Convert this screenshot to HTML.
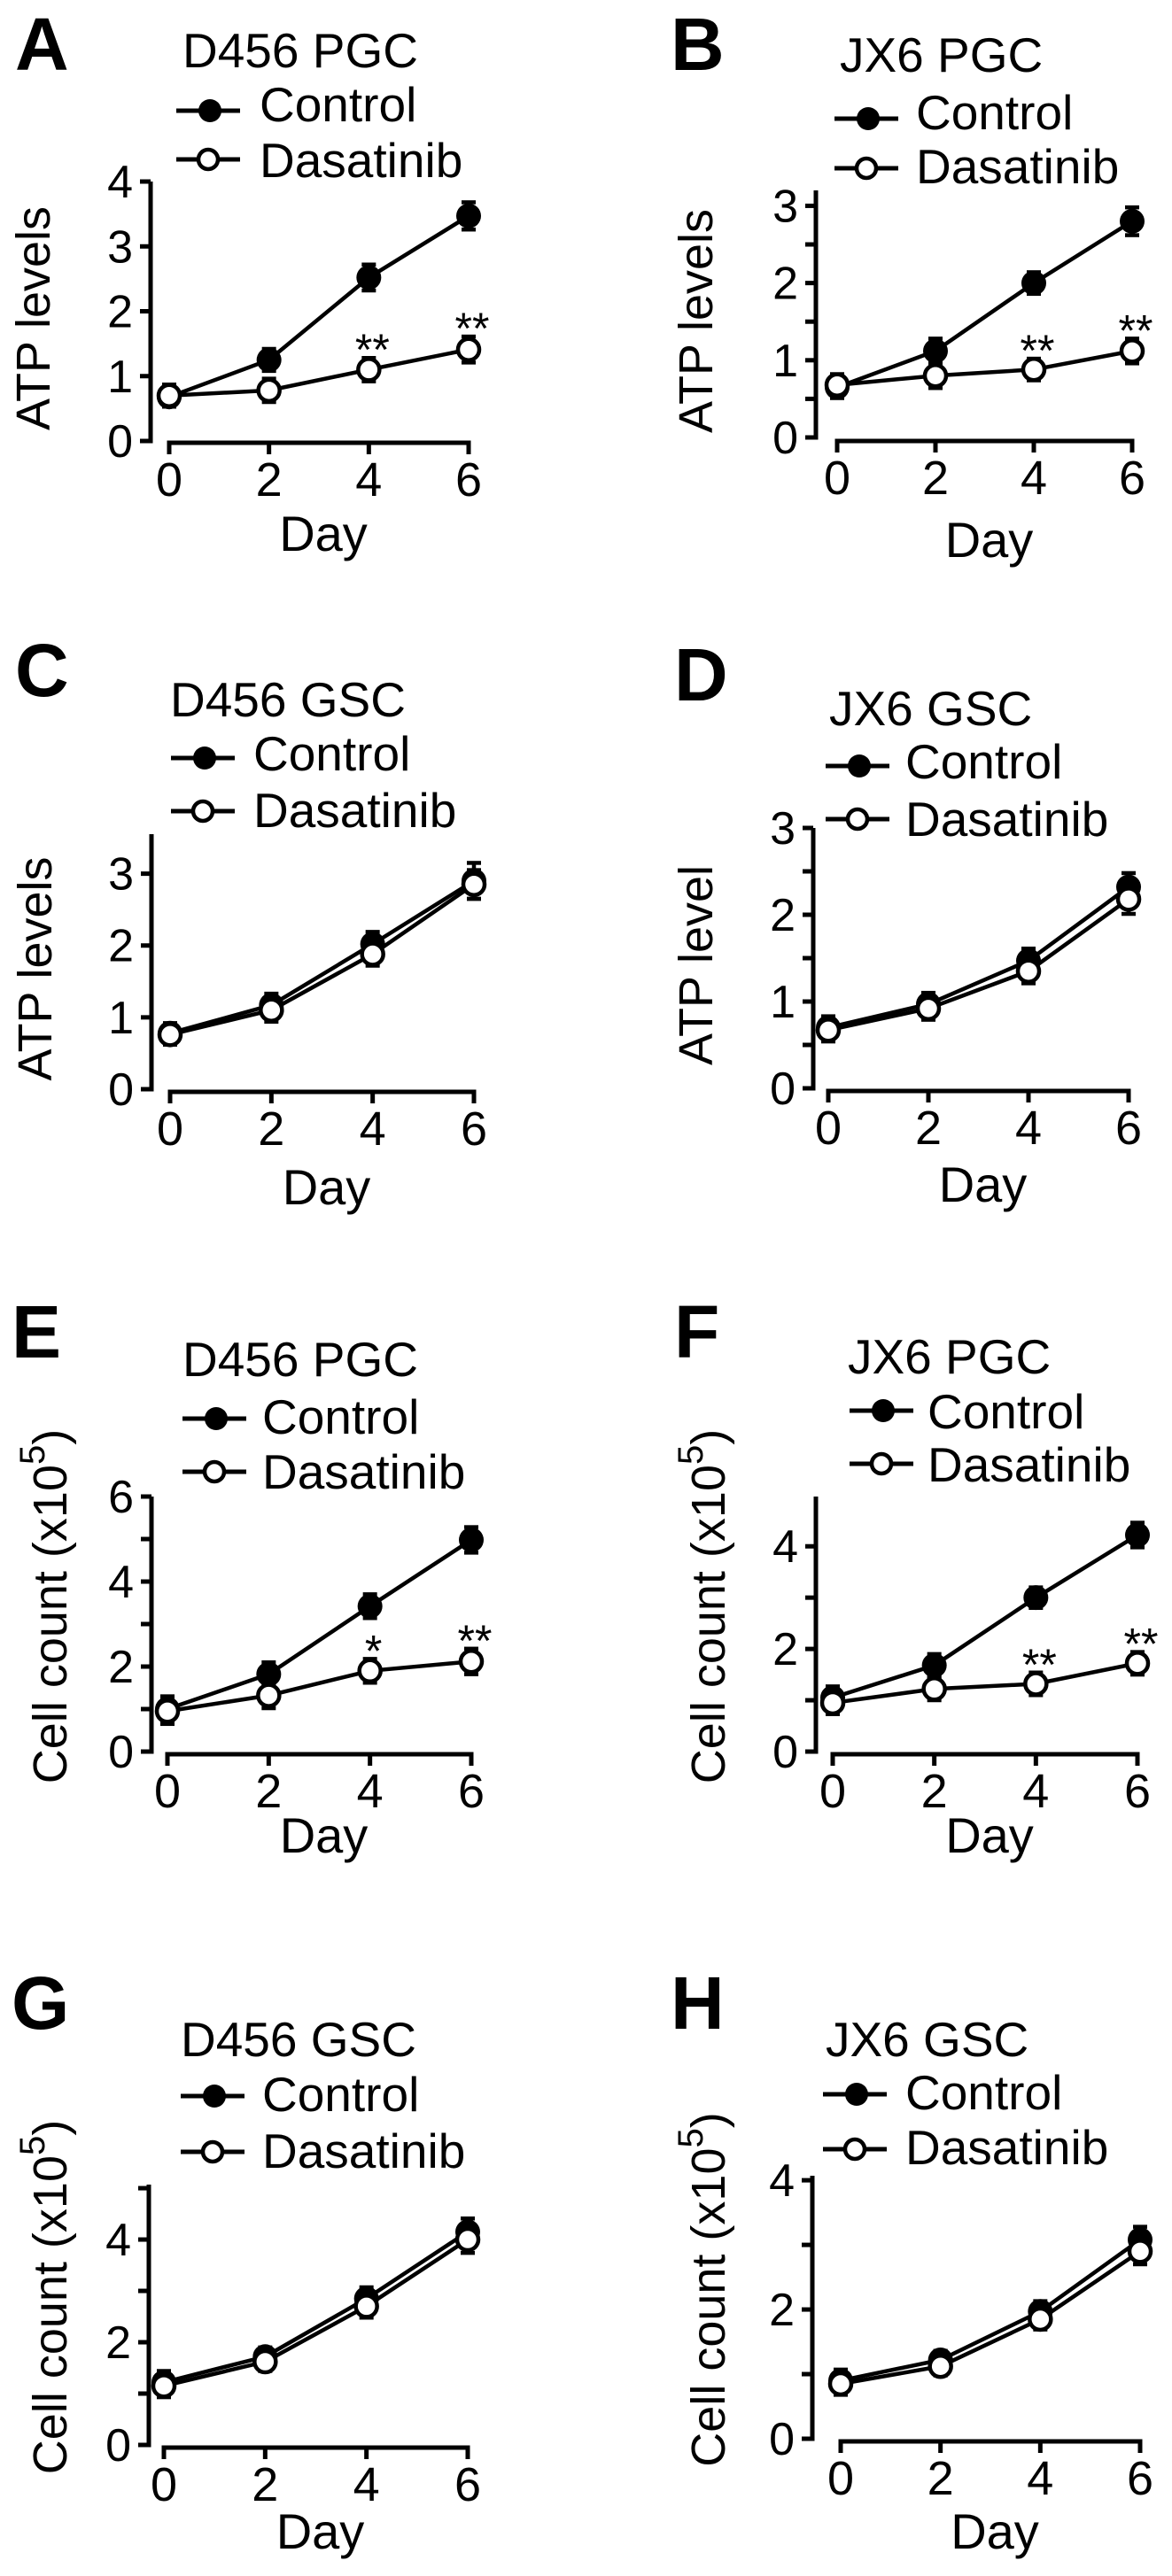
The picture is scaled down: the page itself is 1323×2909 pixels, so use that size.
<!DOCTYPE html>
<html><head><meta charset="utf-8"><style>
html,body{margin:0;padding:0;background:#fff}
svg{display:block;font-family:"Liberation Sans",Arial,sans-serif}
</style></head><body>
<svg id="fig" width="1323" height="2909" viewBox="0 0 1323 2909" xmlns="http://www.w3.org/2000/svg"></svg>
<script>
const days = [0, 2, 4, 6];
const aCtrl = [0.68, 1.25, 2.52, 3.47], aCtrlErr = [0.15, 0.17, 0.2, 0.21];
const aDas = [0.7, 0.78, 1.1, 1.41], aDasErr = [0.17, 0.18, 0.18, 0.2];
const aStars = ["", "", "**", "**"];
const bCtrl = [0.65, 1.12, 2.0, 2.8], bCtrlErr = [0.14, 0.16, 0.14, 0.18];
const bDas = [0.68, 0.8, 0.88, 1.12], bDasErr = [0.14, 0.16, 0.14, 0.16];
const bStars = ["", "", "**", "**"];
const cCtrl = [0.78, 1.17, 2.02, 2.9], cCtrlErr = [0.14, 0.16, 0.17, 0.25];
const cDas = [0.76, 1.1, 1.88, 2.85], cDasErr = [0.14, 0.16, 0.16, 0.2];
const cStars = ["", "", "", ""];
const dCtrl = [0.7, 0.97, 1.47, 2.32], dCtrlErr = [0.13, 0.13, 0.14, 0.16];
const dDas = [0.67, 0.92, 1.35, 2.18], dDasErr = [0.13, 0.13, 0.14, 0.17];
const dStars = ["", "", "", ""];
const eCtrl = [1.0, 1.82, 3.42, 4.98], eCtrlErr = [0.3, 0.28, 0.28, 0.3];
const eDas = [0.95, 1.32, 1.9, 2.12], eDasErr = [0.3, 0.3, 0.28, 0.3];
const eStars = ["", "", "*", "**"];
const fCtrl = [1.05, 1.68, 3.0, 4.22], fCtrlErr = [0.22, 0.22, 0.2, 0.24];
const fDas = [0.95, 1.22, 1.32, 1.72], fDasErr = [0.22, 0.22, 0.22, 0.22];
const fStars = ["", "", "**", "**"];
const gCtrl = [1.22, 1.72, 2.85, 4.15], gCtrlErr = [0.22, 0.18, 0.22, 0.26];
const gDas = [1.15, 1.62, 2.7, 4.0], gDasErr = [0.22, 0.18, 0.22, 0.26];
const gStars = ["", "", "", ""];
const hCtrl = [0.9, 1.22, 1.97, 3.08], hCtrlErr = [0.17, 0.14, 0.16, 0.2];
const hDas = [0.85, 1.12, 1.85, 2.9], hDasErr = [0.17, 0.14, 0.16, 0.2];
const hStars = ["", "", "", ""];
const atpTicks = [0, 1, 2, 3, 4];
const cellTicks = [0, 2, 4, 6];

const panels = [
 {id:"a",letter:"A",title:"D456 PGC",ylab:"ATP levels",cell:false,lx:17,lb:79,tx:206,tb:76,legX:199,legY1:125,legY2:180,legTx:293,legB1:137,legB2:200,ax:170,top:205,y0:498,ymax:4,ytop:4,x0:191,x6:529,xa:500,dayB:622,ylx:38,minor:1,ctrl:aCtrl,ce:aCtrlErr,das:aDas,de:aDasErr,stars:aStars},
 {id:"b",letter:"B",title:"JX6 PGC",ylab:"ATP levels",cell:false,lx:757,lb:79,tx:948,tb:81,legX:942,legY1:134,legY2:190,legTx:1034,legB1:146,legB2:207,ax:921,top:215,y0:494,ymax:3,ytop:3.2,x0:945,x6:1278,xa:498,dayB:629,ylx:786,minor:0.5,ctrl:bCtrl,ce:bCtrlErr,das:bDas,de:bDasErr,stars:bStars},
 {id:"c",letter:"C",title:"D456 GSC",ylab:"ATP levels",cell:false,lx:17,lb:786,tx:192,tb:809,legX:193,legY1:856,legY2:916,legTx:286,legB1:870,legB2:934,ax:171,top:942,y0:1230,ymax:3,ytop:3.55,x0:192,x6:535,xa:1233,dayB:1360,ylx:40,minor:1,ctrl:cCtrl,ce:cCtrlErr,das:cDas,de:cDasErr,stars:cStars},
 {id:"d",letter:"D",title:"JX6 GSC",ylab:"ATP level",cell:false,lx:761,lb:791,tx:936,tb:819,legX:932,legY1:865,legY2:925,legTx:1022,legB1:879,legB2:944,ax:918,top:935,y0:1229,ymax:3,ytop:3,x0:935,x6:1274,xa:1232,dayB:1357,ylx:786,minor:0.5,ctrl:dCtrl,ce:dCtrlErr,das:dDas,de:dDasErr,stars:dStars},
 {id:"e",letter:"E",title:"D456 PGC",ylab:"cell",cell:true,lx:13,lb:1533,tx:206,tb:1554,legX:206,legY1:1602,legY2:1662,legTx:296,legB1:1619,legB2:1681,ax:171,top:1690,y0:1978,ymax:6,ytop:6,x0:189,x6:532,xa:1981,dayB:2092,ylx:57,minor:1,ctrl:eCtrl,ce:eCtrlErr,das:eDas,de:eDasErr,stars:eStars},
 {id:"f",letter:"F",title:"JX6 PGC",ylab:"cell",cell:true,lx:761,lb:1533,tx:957,tb:1551,legX:959,legY1:1593,legY2:1653,legTx:1047,legB1:1613,legB2:1673,ax:921,top:1690,y0:1978,ymax:4,ytop:4.97,x0:940,x6:1284,xa:1981,dayB:2092,ylx:800,minor:1,ctrl:fCtrl,ce:fCtrlErr,das:fDas,de:fDasErr,stars:fStars},
 {id:"g",letter:"G",title:"D456 GSC",ylab:"cell",cell:true,lx:13,lb:2291,tx:204,tb:2322,legX:204,legY1:2367,legY2:2430,legTx:296,legB1:2384,legB2:2448,ax:168,top:2467,y0:2761,ymax:4,ytop:5.07,x0:185,x6:528,xa:2764,dayB:2878,ylx:57,minor:1,ctrl:gCtrl,ce:gCtrlErr,das:gDas,de:gDasErr,stars:gStars},
 {id:"h",letter:"H",title:"JX6 GSC",ylab:"cell",cell:true,lx:757,lb:2291,tx:932,tb:2322,legX:929,legY1:2365,legY2:2427,legTx:1022,legB1:2382,legB2:2444,ax:917,top:2457,y0:2754,ymax:4,ytop:4.07,x0:949,x6:1287,xa:2757,dayB:2878,ylx:800,minor:1,ctrl:hCtrl,ce:hCtrlErr,das:hDas,de:hDasErr,stars:hStars}
];
const NS = "http://www.w3.org/2000/svg";
const svg = document.getElementById("fig");
function mk(tag, attrs, parent, txt) {
  const e = document.createElementNS(NS, tag);
  for (const k in attrs) e.setAttribute(k, attrs[k]);
  if (txt !== undefined) e.textContent = txt;
  parent.appendChild(e);
  return e;
}
panels.forEach(p => {
  const g = mk("g", {}, svg);
  
  
  const perUnit = (p.y0 - p.top) / p.ytop;
  const ys = v => p.y0 - v * perUnit;
  const xs = d => p.x0 + (d / 6) * (p.x6 - p.x0);
  let t = mk("text", {x:p.lx, y:p.lb, "font-size":84, "font-weight":"bold"}, g, p.letter);
  
  
  t = mk("text", {x:p.tx, y:p.tb, "font-size":55}, g, p.title);
  
  
  const l1 = mk("g", {}, g);
  
  
  mk("line", {x1:p.legX, x2:p.legX + 72, y1:p.legY1, y2:p.legY1, stroke:"#000", "stroke-width":5}, l1);
  mk("circle", {cx:p.legX + 38, cy:p.legY1, r:13, fill:"#000"}, l1);
  mk("text", {x:p.legTx, y:p.legB1, "font-size":55}, l1, "Control");
  const l2 = mk("g", {}, g);
  
  
  mk("line", {x1:p.legX, x2:p.legX + 72, y1:p.legY2, y2:p.legY2, stroke:"#000", "stroke-width":5}, l2);
  mk("circle", {cx:p.legX + 36, cy:p.legY2, r:11, fill:"#fff", stroke:"#000", "stroke-width":4.5}, l2);
  mk("text", {x:p.legTx, y:p.legB2, "font-size":55}, l2, "Dasatinib");
  const ya = mk("g", {}, g);
  
  
  mk("line", {x1:p.ax, x2:p.ax, y1:p.top, y2:p.y0 + 2.5, stroke:"#000", "stroke-width":5}, ya);
  const labTicks = p.cell ? cellTicks : atpTicks;
  for (let v = 0; v <= p.ytop + 1e-6; v += p.minor) {
    mk("line", {x1:p.ax - 12, x2:p.ax, y1:ys(v), y2:ys(v), stroke:"#000", "stroke-width":5}, ya);
  }
  labTicks.filter(v => v <= p.ymax + 1e-6).forEach(v => {
    const tl = mk("text", {x:p.ax - 20, y:ys(v) + 18, "font-size":52, "text-anchor":"end"}, ya, String(v));
    
    
  });
  const yt = mk("text", {x:0, y:0, "font-size":54, "text-anchor":"middle", "dominant-baseline":"central",
    transform:`translate(${p.ylx},${(p.top + p.y0) / 2 + (p.cell ? -20 : 8)}) rotate(-90)`}, g);
  
  
  if (p.cell) {
    yt.textContent = "Cell count (x10";
    mk("tspan", {"font-size":40, dy:-20}, yt, "5");
    mk("tspan", {"font-size":54, dy:20}, yt, ")");
  } else yt.textContent = p.ylab;
  const xa = mk("g", {}, g);
  
  
  mk("line", {x1:xs(0) - 2.5, x2:xs(6) + 2.5, y1:p.xa, y2:p.xa, stroke:"#000", "stroke-width":5}, xa);
  days.forEach(d => {
    mk("line", {x1:xs(d), x2:xs(d), y1:p.xa, y2:p.xa + 13, stroke:"#000", "stroke-width":5}, xa);
    const tl = mk("text", {x:xs(d), y:p.xa + 60, "font-size":54, "text-anchor":"middle"}, xa, String(d));
    
    
  });
  const dt = mk("text", {x:(xs(0) + xs(6)) / 2 + 5, y:p.dayB, "font-size":56, "text-anchor":"middle"}, g, "Day");
  
  
  [[p.ctrl, p.ce, true, "control"], [p.das, p.de, false, "dasatinib"]].forEach(([vals, errs, filled, nm]) => {
    const sg = mk("g", {}, g);
    
    
    mk("polyline", {points:vals.map((v, i) => xs(days[i]) + "," + ys(v)).join(" "), fill:"none", stroke:"#000", "stroke-width":4.5}, sg);
    vals.forEach((v, i) => {
      const x = xs(days[i]), yh = ys(v + errs[i]), yl = ys(v - errs[i]);
      mk("line", {x1:x, x2:x, y1:yh, y2:yl, stroke:"#000", "stroke-width":4.5}, sg);
      mk("line", {x1:x - 8, x2:x + 8, y1:yh, y2:yh, stroke:"#000", "stroke-width":4.5}, sg);
      mk("line", {x1:x - 8, x2:x + 8, y1:yl, y2:yl, stroke:"#000", "stroke-width":4.5}, sg);
      const c = mk("circle", filled ? {cx:x, cy:ys(v), r:14, fill:"#000"} : {cx:x, cy:ys(v), r:12, fill:"#fff", stroke:"#000", "stroke-width":4.5}, sg);
      
      
    });
  });
  p.stars.forEach((s, i) => {
    if (!s) return;
    const st = mk("text", {x:xs(days[i]) + 4, y:ys(p.das[i] + p.de[i]) + 8, "font-size":50, "text-anchor":"middle"}, g, s);
    
    
  });
});
</script>
</body></html>
